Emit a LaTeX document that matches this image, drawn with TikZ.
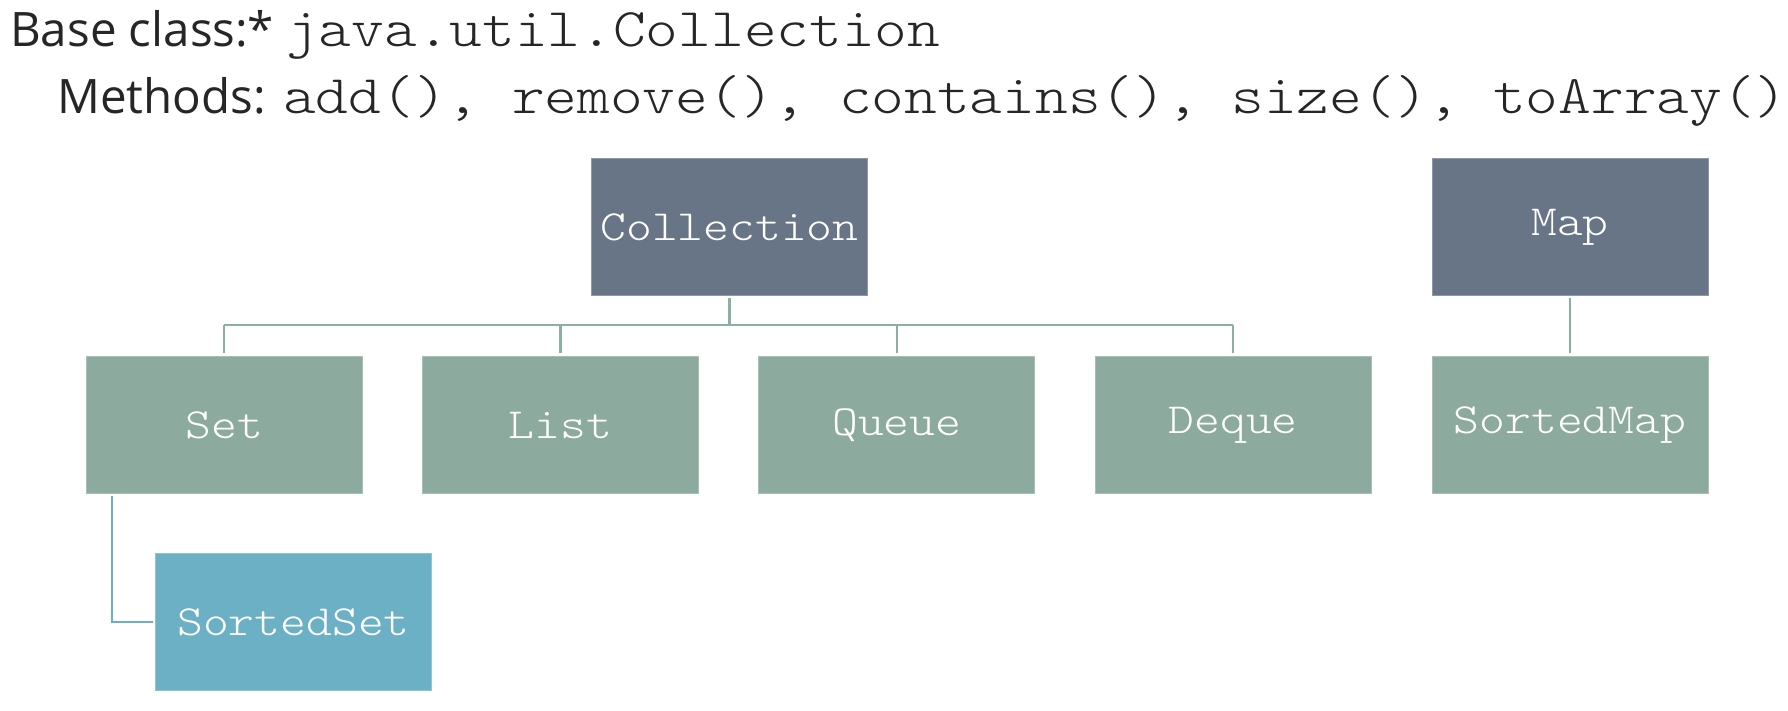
\documentclass[tikz,border=0pt]{standalone}
\usepackage{fontspec}
\setmainfont{Open Sans}
\newfontfamily\codefont{lmmonolt10-regular}[Extension=.otf, FakeStretch=1.143]
\usetikzlibrary{calc}
\definecolor{slate}{HTML}{687587}
\definecolor{sage}{HTML}{8CAA9D}
\definecolor{teal}{HTML}{6BB0C4}
\definecolor{conngreen}{HTML}{8DAFA1}
\definecolor{txt}{HTML}{262626}
\begin{document}
\begin{tikzpicture}[x=1pt,y=-1pt,
  box/.style={minimum width=276pt, minimum height=137pt, inner sep=0pt, anchor=north west,
    text=white, font=\codefont\fontsize{43}{43}\selectfont, line width=1pt},
  darkbox/.style={box, fill=slate, draw=slate!75!white},
  greenbox/.style={box, fill=sage, draw=sage!75!white},
  bluebox/.style={box, fill=teal, draw=teal!75!white},
  conn/.style={draw=conngreen, line width=2.5pt},
  bconn/.style={draw=teal, line width=2.5pt},
  head/.style={anchor=base west, inner sep=0pt, text=txt, font=\fontsize{47.5}{47.5}\selectfont},
  code/.style={anchor=base west, inner sep=0pt, text=txt, font=\codefont\fontsize{54.5}{54.5}\selectfont}]
\useasboundingbox (0,0) rectangle (1788,710);

\node[head] (bc) at (10,46) {Base class:*};
\node[code] (bcode) at (286,46) {java.util.Collection};
\node[head] (meth) at (57,113) {Methods:};
\node[code] (mcode) at (283,113) {add(), remove(), contains(), size(), toArray()};

\node[darkbox] (coll) at (591,158) {Collection};
\node[darkbox] (map) at (1431.5,158) {Map};
\node[greenbox] (set) at (85.7,356) {Set};
\node[greenbox] (list) at (422,356) {List};
\node[greenbox] (queue) at (758.3,356) {Queue};
\node[greenbox] (deque) at (1094.6,356) {Deque};
\node[greenbox] (smap) at (1431.5,356) {SortedMap};
\node[bluebox] (sset) at (155,553) {SortedSet};

\coordinate (bus) at (0,325);
\draw[conn] ($(coll.south)+(0,2)$) -- (coll.south |- bus);
\draw[conn] (set.north |- bus) -- (deque.north |- bus);
\foreach \n in {set,list,queue,deque}{
  \draw[conn] (\n.north |- bus) -- ($(\n.north)+(0,-3)$);
}
\draw[conn] ($(map.south)+(0,2)$) -- ($(smap.north)+(0,-3)$);
\draw[bconn] ($(set.south west)+(26.5,2)$) |- ($(sset.west)+(-2,0)$);
\end{tikzpicture}
\end{document}
